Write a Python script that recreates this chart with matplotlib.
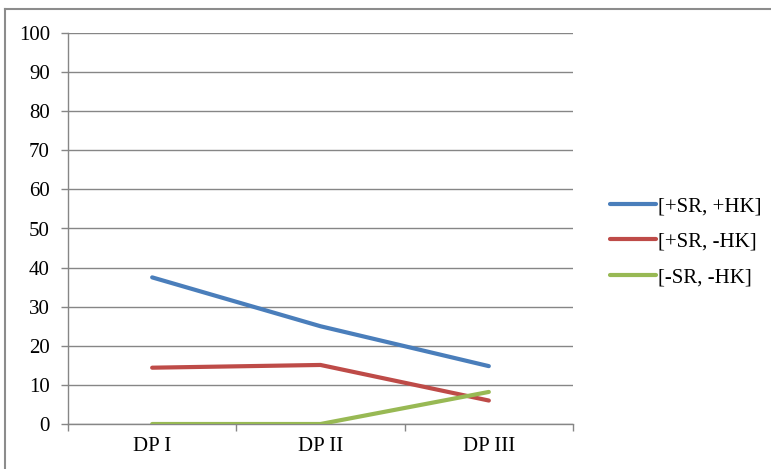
import matplotlib
matplotlib.use("Agg")
import matplotlib.pyplot as plt
from matplotlib.lines import Line2D

categories = ["DP I", "DP II", "DP III"]
series_names = ["[+SR, +HK]", "[+SR, -HK]", "[-SR, -HK]"]
blue_vals = [37.5, 25.0, 14.8]
red_vals = [14.4, 15.1, 6.0]
green_vals = [0.0, 0.0, 8.2]
yticks = [0, 10, 20, 30, 40, 50, 60, 70, 80, 90, 100]

colors = ["#4A7EBB", "#BE4B48", "#98B954"]
grid_c = "#868686"

plt.rcParams['font.family'] = ['Liberation Serif', 'DejaVu Serif']

W, H = 771, 469
fig = plt.figure(figsize=(W / 100, H / 100), dpi=100)
ax = fig.add_axes([68 / W, 1 - 424 / H, (573 - 68) / W, (424 - 33) / H])

x = list(range(len(categories)))
for vals, c, name in zip([blue_vals, red_vals, green_vals], colors, series_names):
    ax.plot(x, vals, color=c, lw=3.0, solid_capstyle='round', label=name, zorder=3)

ax.set_xlim(-0.5, len(categories) - 0.5)
ax.set_ylim(0, 100)
ax.set_yticks(yticks)
ax.set_yticklabels([str(v) for v in yticks], fontsize=15)
ax.set_xticks(x)
ax.set_xticklabels(categories, fontsize=15)
ax.set_xticks([i - 0.5 for i in range(len(categories) + 1)], minor=True)
ax.tick_params(axis='x', which='major', length=0, pad=9)
ax.tick_params(axis='x', which='minor', length=5, width=1, color=grid_c, direction='out')
ax.tick_params(axis='y', length=5, width=1, color=grid_c, direction='out', pad=8)

ax.grid(axis='y', color=grid_c, lw=1, zorder=0)
ax.set_axisbelow(True)
for s in ['top', 'right']:
    ax.spines[s].set_visible(False)
for s in ['left', 'bottom']:
    ax.spines[s].set_color(grid_c)
    ax.spines[s].set_linewidth(1)

# legend
handles = [Line2D([0], [0], color=c, lw=3.0, solid_capstyle='round') for c in colors]
leg = fig.legend(handles, series_names, loc='center left',
                 bbox_to_anchor=(600 / W, 1 - 242 / H), frameon=False,
                 fontsize=15, handlelength=2.2, handletextpad=0.1,
                 labelspacing=0.75, borderpad=0)

# outer border (top and left visible)
fig.add_artist(Line2D([5 / W, 5 / W], [0, 1 - 9 / H], color='#8c8c8c', lw=1.5,
                      transform=fig.transFigure))
fig.add_artist(Line2D([5 / W, 1], [1 - 9 / H, 1 - 9 / H], color='#8c8c8c', lw=1.5,
                      transform=fig.transFigure))

fig.savefig("out.png", dpi=100)
